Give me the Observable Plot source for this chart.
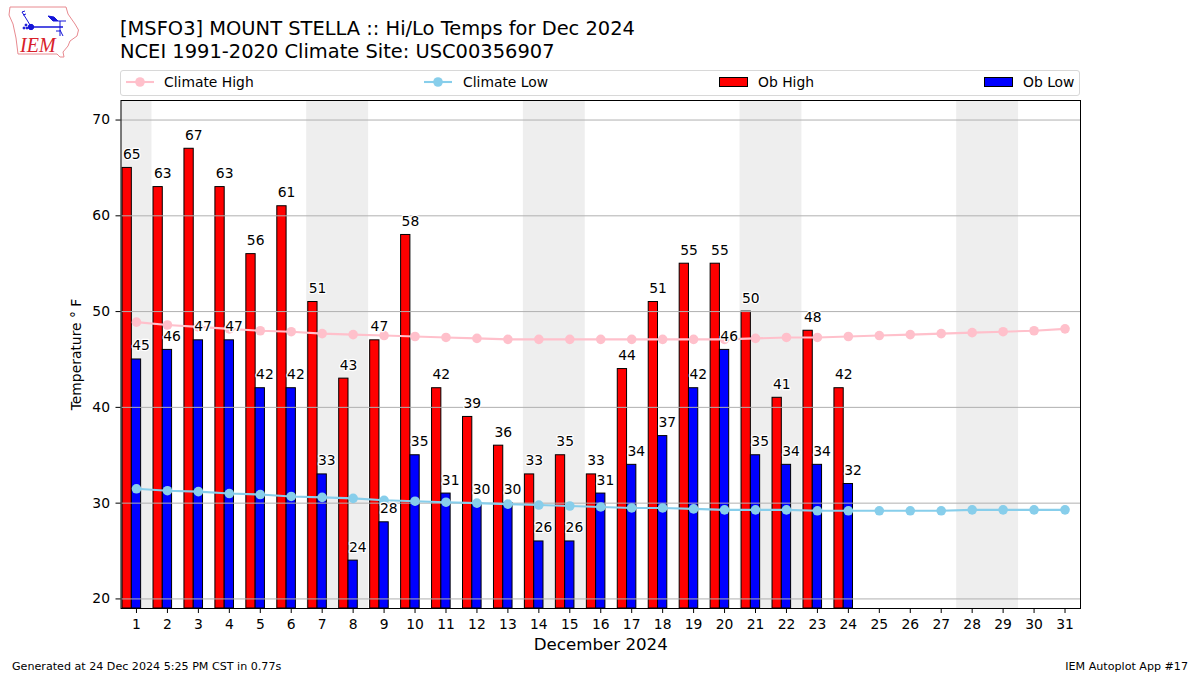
<!DOCTYPE html>
<html><head><meta charset="utf-8">
<script src="https://cdn.jsdelivr.net/npm/d3@7"></script>
<script src="https://cdn.jsdelivr.net/npm/@observablehq/plot@0.6"></script>
<style>
html,body{margin:0;padding:0;background:#fff;font-family:"DejaVu Sans",sans-serif;color:#000;}
#page{position:relative;width:1200px;height:675px;overflow:hidden;}
#logo{position:absolute;left:0;top:0;}
#title{position:absolute;left:120px;top:18px;font-size:19.44px;line-height:22.5px;white-space:nowrap;}
#legend{position:absolute;left:120px;top:70px;width:958px;height:24px;border:1px solid #d8d8d8;border-radius:3px;font-size:13.89px;}
.li{position:absolute;top:3px;line-height:17px;white-space:nowrap;}
#chart{position:absolute;left:0;top:96px;}
.foot{position:absolute;top:660px;font-size:11.11px;line-height:13px;white-space:nowrap;}
</style></head><body>
<div id="page">
<svg id="logo" width="90" height="62" viewBox="0 0 90 62">
<path d="M10 7L66 7L68 14L75 24L78.500 30L77 36L70 41L68 46L63 52L64 57L60 57L57 54L18 54L16 38L13 24L9 15Z" fill="none" stroke="#e88a90" stroke-width="1"/>
<g stroke="#1414d8" fill="#1414d8">
<path d="M31 27L63 27" stroke-width="1.500"/><circle cx="31" cy="27" r="2.700"/>
<path d="M48 16L54 17L58 21L53 21Z"/><path d="M58 21L66 21M60 21L60 36M22 12L27 20L30 25M22 12L25 11M23 15L26 14M60 30L63 36M56 31L60 31" fill="none" stroke-width="1"/>
<circle cx="24" cy="28" r="1"/><circle cx="26" cy="25" r="1"/><circle cx="27" cy="28" r="1"/>
</g>
<text x="20" y="52" font-family="Liberation Serif" font-style="italic" font-size="20" fill="#d8202a">IEM</text>
</svg>
<div id="title">[MSFO3] MOUNT STELLA :: Hi/Lo Temps for Dec 2024<br>NCEI 1991-2020 Climate Site: USC00356907</div>
<div id="legend"></div>
<div id="chart"></div>
<div class="foot" style="left:12px">Generated at 24 Dec 2024 5:25 PM CST in 0.77s</div>
<div class="foot" style="right:12px">IEM Autoplot App #17</div>
</div>
<script>
const days = d3.range(1, 32);
const obDays = d3.range(1, 25);
const obHigh = [65,63,67,63,56,61,51,43,47,58,42,39,36,33,35,33,44,51,55,55,50,41,48,42];
const obLow = [45,46,47,47,42,42,33,24,28,35,31,30,30,26,26,31,34,37,42,46,35,34,34,32];
const climateHigh = [48.9,48.6,48.4,48.2,48.0,47.9,47.7,47.6,47.5,47.4,47.3,47.2,47.1,47.1,47.1,47.1,47.1,47.1,47.1,47.1,47.2,47.3,47.3,47.4,47.5,47.6,47.7,47.8,47.9,48.0,48.2];
const climateLow = [31.5,31.3,31.2,31.0,30.9,30.7,30.6,30.5,30.3,30.2,30.1,30.0,29.9,29.8,29.7,29.6,29.5,29.5,29.4,29.3,29.3,29.3,29.2,29.2,29.2,29.2,29.2,29.3,29.3,29.3,29.3];
const weekendStart = [0.5,6.5,13.5,20.5,27.5];
const weekendEnd = [1.5,8.5,15.5,22.5,29.5];
const yTicks = [20,30,40,50,60,70];

const PINK = "pink", SKY = "skyblue", font = "DejaVu Sans, sans-serif";
const ob = obDays.map((d,i)=>({d, hi:obHigh[i], lo:obLow[i]}));
const hiC = days.map((d,i)=>({d, v:climateHigh[i]}));
const loC = days.map((d,i)=>({d, v:climateLow[i]}));
const yBase = 19;
const labelOpts = {fill:"black", stroke:"white", strokeWidth:2.5, fontSize:13.89, lineAnchor:"bottom", dy:-9, textAnchor:"middle"};

const plot = Plot.plot({
  width:1200, height:559,
  marginLeft:120.5, marginRight:120, marginTop:4, marginBottom:47,
  style:{fontFamily:font, background:"white"},
  x:{type:"linear", domain:[0.5,31.5], label:null},
  y:{type:"linear", domain:[yBase,72.04], label:null},
  marks:[
    Plot.rect(weekendStart,{x1:d=>d, x2:(d,i)=>weekendEnd[i], fill:"#eeeeee"}),
    Plot.rectY(ob,{x1:d=>d.d-0.45, x2:d=>d.d-0.15, y1:yBase, y2:"hi", fill:"red", stroke:"black", strokeWidth:1, inset:0}),
    Plot.rectY(ob,{x1:d=>d.d-0.15, x2:d=>d.d+0.15, y1:yBase, y2:"lo", fill:"blue", stroke:"black", strokeWidth:1, inset:0}),
    Plot.ruleY(yTicks,{stroke:"#b0b0b0", strokeWidth:1}),
    Plot.line(hiC,{x:"d", y:"v", stroke:PINK, strokeWidth:2.1}),
    Plot.dot(hiC,{x:"d", y:"v", fill:PINK, r:4.8}),
    Plot.line(loC,{x:"d", y:"v", stroke:SKY, strokeWidth:2.1}),
    Plot.dot(loC,{x:"d", y:"v", fill:SKY, r:4.8}),
    Plot.text(ob,{x:d=>d.d-0.15, y:"hi", text:d=>String(d.hi), ...labelOpts}),
    Plot.text(ob,{x:d=>d.d+0.15, y:"lo", text:d=>String(d.lo), ...labelOpts}),
    Plot.frame({stroke:"black", strokeWidth:1}),
    Plot.axisX({ticks:days, tickFormat:d=>String(d), tickSize:5, tickPadding:6, fontSize:13.89, label:null, stroke:"black"}),
    Plot.axisY({ticks:yTicks, tickFormat:d=>String(d), tickSize:5, tickPadding:6, fontSize:13.89, label:null, stroke:"black"}),
    Plot.text(["December 2024"],{frameAnchor:"bottom", dy:41, fontSize:16.67, fill:"black"}),
    Plot.text(["Temperature ° F"],{frameAnchor:"left", textAnchor:"middle", rotate:-90, dx:-44, fontSize:13.89, fill:"black"})
  ]
});
document.getElementById("chart").appendChild(plot);

const legendItems = [
  {name:"Climate High", kind:"line", color:PINK, sw:5, tx:43},
  {name:"Climate Low", kind:"line", color:SKY, sw:303, tx:342},
  {name:"Ob High", kind:"bar", color:"red", sw:598, tx:637},
  {name:"Ob Low", kind:"bar", color:"blue", sw:863, tx:902}
];
const lg = document.getElementById("legend");
for (const it of legendItems) {
  const s = d3.create("svg").attr("width",30).attr("height",14).style("position","absolute").style("left",it.sw+"px").style("top","4px");
  if (it.kind==="line") {
    s.append("line").attr("x1",0).attr("x2",28).attr("y1",7).attr("y2",7).attr("stroke",it.color).attr("stroke-width",2.1);
    s.append("circle").attr("cx",14).attr("cy",7).attr("r",4.8).attr("fill",it.color);
  } else {
    s.append("rect").attr("x",0.5).attr("y",2.5).attr("width",28).attr("height",9).attr("fill",it.color).attr("stroke","black");
  }
  lg.appendChild(s.node());
  const t = document.createElement("div");
  t.className="li"; t.style.left=it.tx+"px"; t.textContent=it.name;
  lg.appendChild(t);
}
</script>
</body></html>
